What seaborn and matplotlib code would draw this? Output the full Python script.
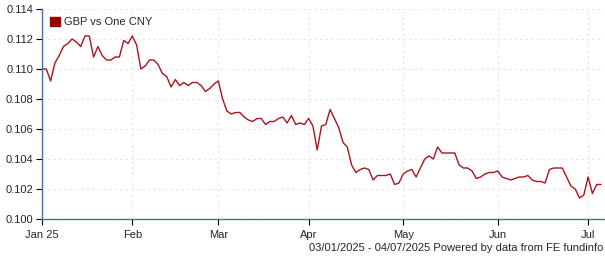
import matplotlib
matplotlib.use("Agg")
import matplotlib.pyplot as plt
from matplotlib.patches import Patch
import seaborn as sns
import pandas as pd
import numpy as np

# Business-day closing values, by month
jan = [0.1100, 0.1100, 0.1092, 0.1104, 0.1109, 0.1115, 0.1117, 0.1120, 0.1118, 0.1115,
       0.1122, 0.1122, 0.1108, 0.1115, 0.1109, 0.1106, 0.1106, 0.1108, 0.1108, 0.1119, 0.1117]
feb = [0.1122, 0.1116, 0.1100, 0.1102, 0.1106, 0.1106, 0.1103, 0.1097, 0.1095, 0.1088,
       0.1093, 0.1089, 0.1091, 0.1089, 0.1091, 0.1091, 0.1089, 0.1085, 0.1087, 0.1090]
mar = [0.1092, 0.1080, 0.1072, 0.1070, 0.1071, 0.1071, 0.1068, 0.1066, 0.1065, 0.1067,
       0.1067, 0.1063, 0.1065, 0.1065, 0.1067, 0.1068, 0.1064, 0.1069, 0.1063, 0.1064, 0.1063]
apr = [0.1067, 0.1062, 0.1046, 0.1062, 0.1063, 0.1073, 0.1067, 0.1061, 0.1051, 0.1048,
       0.1036, 0.1031, 0.1033, 0.1034, 0.1033, 0.1026, 0.1029, 0.1029, 0.1029, 0.1030,
       0.1023, 0.1024]
may = [0.1030, 0.1032, 0.1033, 0.1028, 0.1034, 0.1040, 0.1042, 0.1040, 0.1048, 0.1044,
       0.1044, 0.1044, 0.1044, 0.1036, 0.1034, 0.1034, 0.1032, 0.1027, 0.1028, 0.1030,
       0.1031, 0.1031]
jun = [0.1032, 0.1028, 0.1027, 0.1026, 0.1027, 0.1028, 0.1028, 0.1029, 0.1026, 0.1025,
       0.1025, 0.1024, 0.1033, 0.1034, 0.1034, 0.1034, 0.1028, 0.1022, 0.1020, 0.1014, 0.1016]
jul = [0.1028, 0.1017, 0.1023, 0.1023]

month_labels = ["Jan 25", "Feb", "Mar", "Apr", "May", "Jun", "Jul"]
series_name = "GBP vs One CNY"
y_ticks = [0.100, 0.102, 0.104, 0.106, 0.108, 0.110, 0.112, 0.114]
footer = "03/01/2025 - 04/07/2025 Powered by data from FE fundinfo"

months = [jan, feb, mar, apr, may, jun, jul]
values = [v for m in months for v in m]
df = pd.DataFrame({"idx": np.arange(len(values)), "value": values})
starts = np.cumsum([0] + [len(m) for m in months[:-1]])

sns.set_style("white")
plt.rcParams["font.family"] = ["Liberation Sans", "DejaVu Sans"]

fig = plt.figure(figsize=(6.05, 2.6), dpi=100)
ax = fig.add_axes([42 / 605, 1 - 219 / 260, (604 - 42) / 605, (219 - 9) / 260])

line_color = "#A8161E"
sns.lineplot(data=df, x="idx", y="value", ax=ax, color=line_color, linewidth=1.0)

ax.set_xlim(0, (604 - 42) / 4.3)
ax.set_ylim(0.100, 0.114)
ax.set_yticks(y_ticks)
ax.set_yticklabels([f"{t:.3f}" for t in y_ticks], fontsize=8)
ax.set_xticks(starts)
ax.set_xticklabels(month_labels, fontsize=8)
ax.set_xlabel("")
ax.set_ylabel("")

ax.grid(True, linestyle=(0, (2, 3)), color="#e4e4e4", linewidth=0.8)
ax.set_axisbelow(True)

spine_color = "#4A6F9E"
for s in ["top", "right"]:
    ax.spines[s].set_visible(False)
ax.spines["left"].set_color(spine_color)
ax.spines["bottom"].set_color(spine_color)
ax.spines["left"].set_linewidth(1.0)
ax.spines["bottom"].set_linewidth(1.0)
ax.tick_params(axis="y", direction="out", length=4, width=0.8, color="black", pad=2, left=True)
ax.tick_params(axis="x", direction="out", length=4, width=0.8, color="black", pad=4, bottom=True)

handle = Patch(facecolor="#990000", edgecolor="#990000")
ax.legend([handle], [series_name], loc="upper left", frameon=False, fontsize=8,
          handlelength=0.9, handleheight=0.9, handletextpad=0.4,
          bbox_to_anchor=(0.0, 1.0), borderaxespad=0.3)

fig.text(603 / 605, 1 - 248 / 260, footer, ha="right", va="center", fontsize=8)

fig.savefig("out.png", dpi=100)
